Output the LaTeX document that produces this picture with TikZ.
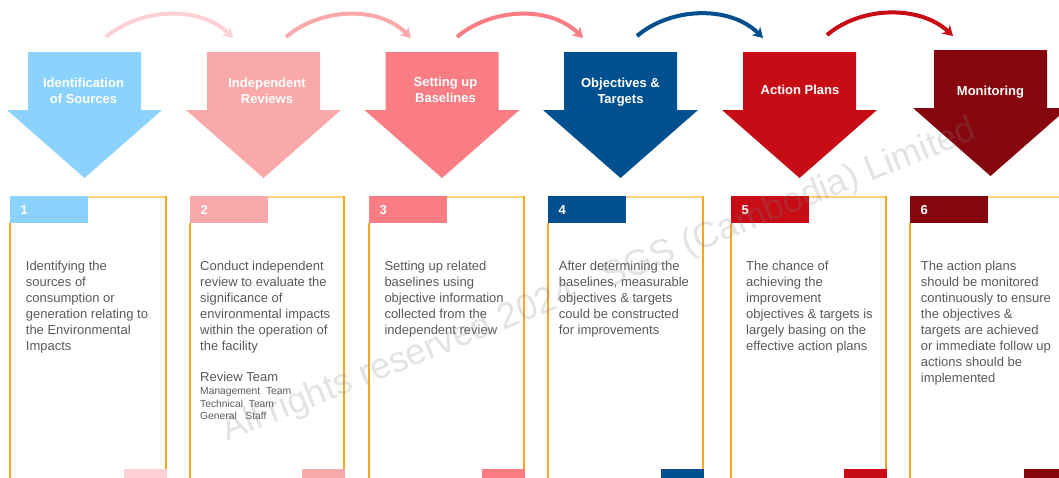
\documentclass[tikz,border=0pt]{standalone}
\usepackage{fontspec}
\setmainfont{Liberation Sans}
\usetikzlibrary{arrows.meta}
\definecolor{cA}{HTML}{8BD2FC}
\definecolor{cB}{HTML}{F9A9AA}
\definecolor{cC}{HTML}{F97D83}
\definecolor{cD}{HTML}{00508F}
\definecolor{cE}{HTML}{C70C15}
\definecolor{cF}{HTML}{86060D}
\definecolor{cP}{HTML}{FFD1D4}
\definecolor{orgS}{HTML}{F5A623}
\definecolor{orgT}{HTML}{FFD17F}
\definecolor{txt}{HTML}{595959}
\newcommand\blkarrow[4]{% center x, top y, colour, name
  \fill[#3] (#1-56.5,#2) -- (#1+56.5,#2) -- (#1+56.5,#2+58) -- (#1+77.5,#2+58)
    -- (#1,#2+126) -- (#1-77.5,#2+58) -- (#1-56.5,#2+58) -- cycle;
  \coordinate (#4) at (#1,#2);}
\newcommand\card[5]{% left, right, bar colour, bottom colour, number
  \draw[topln] (#1+78,196.8) -- (#2,196.8);
  \draw[sideln] (#1,223) -- (#1,478);
  \draw[sideln] (#2,196) -- (#2,478);
  \fill[#3] (#1,196) rectangle (#1+78,223);
  \fill[#4] (#2-42,469) rectangle (#2+1,478);
  \node[numtxt] (n#5) at (#1+10.5,210) {#5};}
\begin{document}
\begin{tikzpicture}[x=1pt,y=-1pt,
  lbl/.style={text=white, align=center, inner sep=0pt,
    font=\fontsize{13}{16}\selectfont\bfseries},
  body/.style={text=txt, align=left, anchor=north west, inner sep=0pt,
    font=\fontsize{13}{16}\selectfont},
  small/.style={text=txt, align=left, anchor=north west, inner sep=0pt,
    font=\fontsize{10.3}{12.5}\selectfont},
  numtxt/.style={text=white, anchor=west, inner sep=0pt,
    font=\fontsize{13}{15}\selectfont\bfseries},
  topln/.style={orgT, line width=1.6pt},
  sideln/.style={orgS, line width=1.3pt},
  curv/.style={line width=4pt, -{Stealth[length=10pt,width=12pt,inset=3pt]}},
]
\useasboundingbox (0,0) rectangle (1059,477);

% block arrows
\blkarrow{84.5}{52}{cA}{a1}
\blkarrow{263.5}{52}{cB}{a2}
\blkarrow{442}{52}{cC}{a3}
\blkarrow{620.5}{52}{cD}{a4}
\blkarrow{799.5}{52}{cE}{a5}
\blkarrow{990.5}{50}{cF}{a6}

\node[lbl] (l1) at (83.5,90.5) {Identification\\of Sources};
\node[lbl] (l2) at (267,91) {Independent\\Reviews};
\node[lbl] (l3) at (445.5,89.5) {Setting up\\Baselines};
\node[lbl] (l4) at (620.5,92) {Objectives \&\\Targets};
\node[lbl] (l5) at (800,90) {Action Plans};
\node[lbl] (l6) at (990.5,92) {Monitoring};

% curved connectors
\coordinate (s1) at (106,37);  \coordinate (e1) at (233,38);
\coordinate (s2) at (286,37);  \coordinate (e2) at (411,38);
\coordinate (s3) at (457,37);  \coordinate (e3) at (583,38);
\coordinate (s4) at (637,36);  \coordinate (e4) at (763,38);
\coordinate (s5) at (827,35);  \coordinate (e5) at (953,36);
\draw[curv, cP] (s1) .. controls +(34,-29) and +(-33,-33) .. (e1);
\draw[curv, cB] (s2) .. controls +(34,-29) and +(-33,-33) .. (e2);
\draw[curv, cC] (s3) .. controls +(34,-29) and +(-33,-33) .. (e3);
\draw[curv, cD] (s4) .. controls +(34,-29) and +(-33,-33) .. (e4);
\draw[curv, cE] (s5) .. controls +(34,-29) and +(-33,-31) .. (e5);

% cards
\card{10}{166}{cA}{cP}{1}
\card{190}{344}{cB}{cB}{2}
\card{369}{524}{cC}{cC}{3}
\card{548}{703}{cD}{cD}{4}
\card{731}{886}{cE}{cE}{5}
\card{910}{1066}{cF}{cF}{6}

\node[body] (t1) at (25.7,260.5) {Identifying the\\sources of\\consumption or\\generation relating to\\the Environmental\\Impacts};
\node[body] (t2) at (200,260.5) {Conduct independent\\review to evaluate the\\significance of\\environmental impacts\\within the operation of\\the facility};
\node[body] (rt) at (200,371.5) {Review Team};
\node[small] (st) at (200,387.5) {Management\ \ Team\\Technical\ \ Team\\General\ \ \ Staff};
\node[body] (t3) at (384.3,260.5) {Setting up related\\baselines using\\objective information\\collected from the\\independent review};
\node[body] (t4) at (558.7,260.5) {After determining the\\baselines, measurable\\objectives \& targets\\could be constructed\\for improvements};
\node[body] (t5) at (746,260.5) {The chance of\\achieving the\\improvement\\objectives \& targets is\\largely basing on the\\effective action plans};
\node[body] (t6) at (920.7,260.5) {The action plans\\should be monitored\\continuously to ensure\\the objectives \&\\targets are achieved\\or immediate follow up\\actions should be\\implemented};

% watermark
\node[rotate=22, anchor=base, text=gray, text opacity=0.22, inner sep=0pt,
  font=\fontsize{36}{36}\selectfont] (wm) at (603,290)
  {All rights reserved 2024 - SGS (Cambodia) Limited};
\end{tikzpicture}
\end{document}
